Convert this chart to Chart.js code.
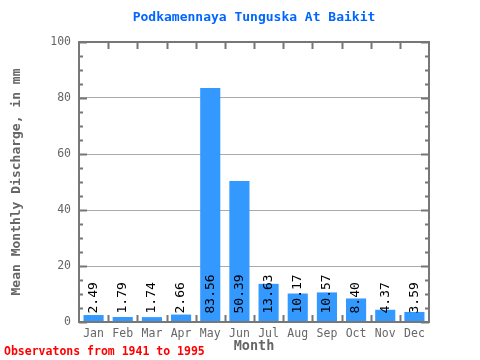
<!DOCTYPE html>
<html>
<head>
<meta charset="utf-8">
<script src="https://cdn.jsdelivr.net/npm/chart.js@4"></script>
<style>
  html, body { margin: 0; padding: 0; background: #fff; }
  #wrap { width: 480px; height: 360px; }
</style>
</head>
<body>
<div id="wrap"><canvas id="chart" width="480" height="360"></canvas></div>
<script>
// --- data ---
const months = ['Jan', 'Feb', 'Mar', 'Apr', 'May', 'Jun', 'Jul', 'Aug', 'Sep', 'Oct', 'Nov', 'Dec'];
const discharge = [2.49, 1.79, 1.74, 2.66, 83.56, 50.39, 13.63, 10.17, 10.57, 8.40, 4.37, 3.59];
const yTicks = [0, 20, 40, 60, 80, 100];

const MONO = '"DejaVu Sans Mono", "Liberation Mono", monospace';
const frameColor = '#777777';
const textGrey = '#666666';

// title, footnote, frame, tick marks and bar value labels
const decorPlugin = {
    id: 'decor',
    afterDatasetsDraw(chart) {
        const ctx = chart.ctx;
        const meta = chart.getDatasetMeta(0);
        ctx.save();
        ctx.fillStyle = '#000';
        ctx.font = '13px ' + MONO;
        ctx.textAlign = 'left';
        ctx.textBaseline = 'middle';
        meta.data.forEach((bar, i) => {
            ctx.save();
            ctx.translate(bar.x, bar.base - 8);
            ctx.rotate(-Math.PI / 2);
            ctx.fillText(discharge[i].toFixed(2), 0, 0);
            ctx.restore();
        });
        ctx.restore();
    },
    afterDraw(chart) {
        const ctx = chart.ctx;
        const { left, right, top, bottom } = chart.chartArea;
        const x = chart.scales.x, y = chart.scales.y;
        ctx.save();

        // frame
        ctx.strokeStyle = frameColor;
        ctx.lineWidth = 2;
        ctx.strokeRect(left, top, right - left, bottom - top);

        // y tick marks, every 5 units, longer at the labelled values
        for (let v = 0; v <= 100; v += 5) {
            const py = Math.round(y.getPixelForValue(v)) + 0.5;
            const len = v % 20 === 0 ? 8 : 4;
            ctx.beginPath();
            ctx.moveTo(left, py); ctx.lineTo(left + len, py);
            ctx.moveTo(right, py); ctx.lineTo(right - len, py);
            ctx.stroke();
        }

        // x tick marks between categories, top and bottom
        for (let i = 1; i < months.length; i++) {
            const px = Math.round((x.getPixelForValue(i - 1) + x.getPixelForValue(i)) / 2) + 0.5;
            ctx.beginPath();
            ctx.moveTo(px, top); ctx.lineTo(px, top + 7);
            ctx.moveTo(px, bottom); ctx.lineTo(px, bottom - 7);
            ctx.stroke();
        }

        // title
        ctx.fillStyle = '#0066ff';
        ctx.font = 'bold 13px ' + MONO;
        ctx.textAlign = 'center';
        ctx.textBaseline = 'middle';
        ctx.fillText('Podkamennaya Tunguska At Baikit', 254, 18);

        // footnote
        ctx.fillStyle = '#ff0000';
        ctx.font = 'bold 11.5px ' + MONO;
        ctx.textAlign = 'left';
        ctx.fillText('Observatons from 1941 to 1995', 4, 352);
        ctx.restore();
    }
};

const ctx = document.getElementById('chart').getContext('2d');
new Chart(ctx, {
    type: 'bar',
    data: {
        labels: months,
        datasets: [{
            data: discharge,
            backgroundColor: '#3399ff',
            borderWidth: 0,
            categoryPercentage: 1,
            barPercentage: 0.69
        }]
    },
    options: {
        responsive: false,
        animation: false,
        layout: { padding: { top: 42, right: 51, bottom: 0, left: 0 } },
        plugins: {
            legend: { display: false },
            tooltip: { enabled: false },
            title: { display: false }
        },
        scales: {
            x: {
                grid: { display: false, drawTicks: false },
                border: { display: false },
                ticks: {
                    color: textGrey,
                    font: { family: MONO, size: 11.5 },
                    padding: 5,
                    maxRotation: 0
                },
                title: {
                    display: true,
                    text: 'Month',
                    color: textGrey,
                    font: { family: MONO, size: 13.5, weight: 'bold' },
                    padding: { top: 0, bottom: 5 }
                },
                afterFit(scale) { scale.height = 38; }
            },
            y: {
                min: 0,
                max: 100,
                afterBuildTicks(scale) { scale.ticks = yTicks.map(v => ({ value: v })); },
                grid: {
                    drawTicks: false,
                    color: c => (c.tick && c.tick.value > 0 && c.tick.value < 100) ? '#aaaaaa' : 'rgba(0,0,0,0)',
                    lineWidth: 1
                },
                border: { display: false },
                ticks: {
                    color: textGrey,
                    font: { family: MONO, size: 11.5 },
                    padding: 8
                },
                title: {
                    display: true,
                    text: 'Mean Monthly Discharge, in mm',
                    color: textGrey,
                    font: { family: MONO, size: 13, weight: 'bold' },
                    padding: { top: 9, bottom: 0 }
                },
                afterFit(scale) { scale.width = 79; }
            }
        }
    },
    plugins: [decorPlugin]
});
</script>
</body>
</html>
